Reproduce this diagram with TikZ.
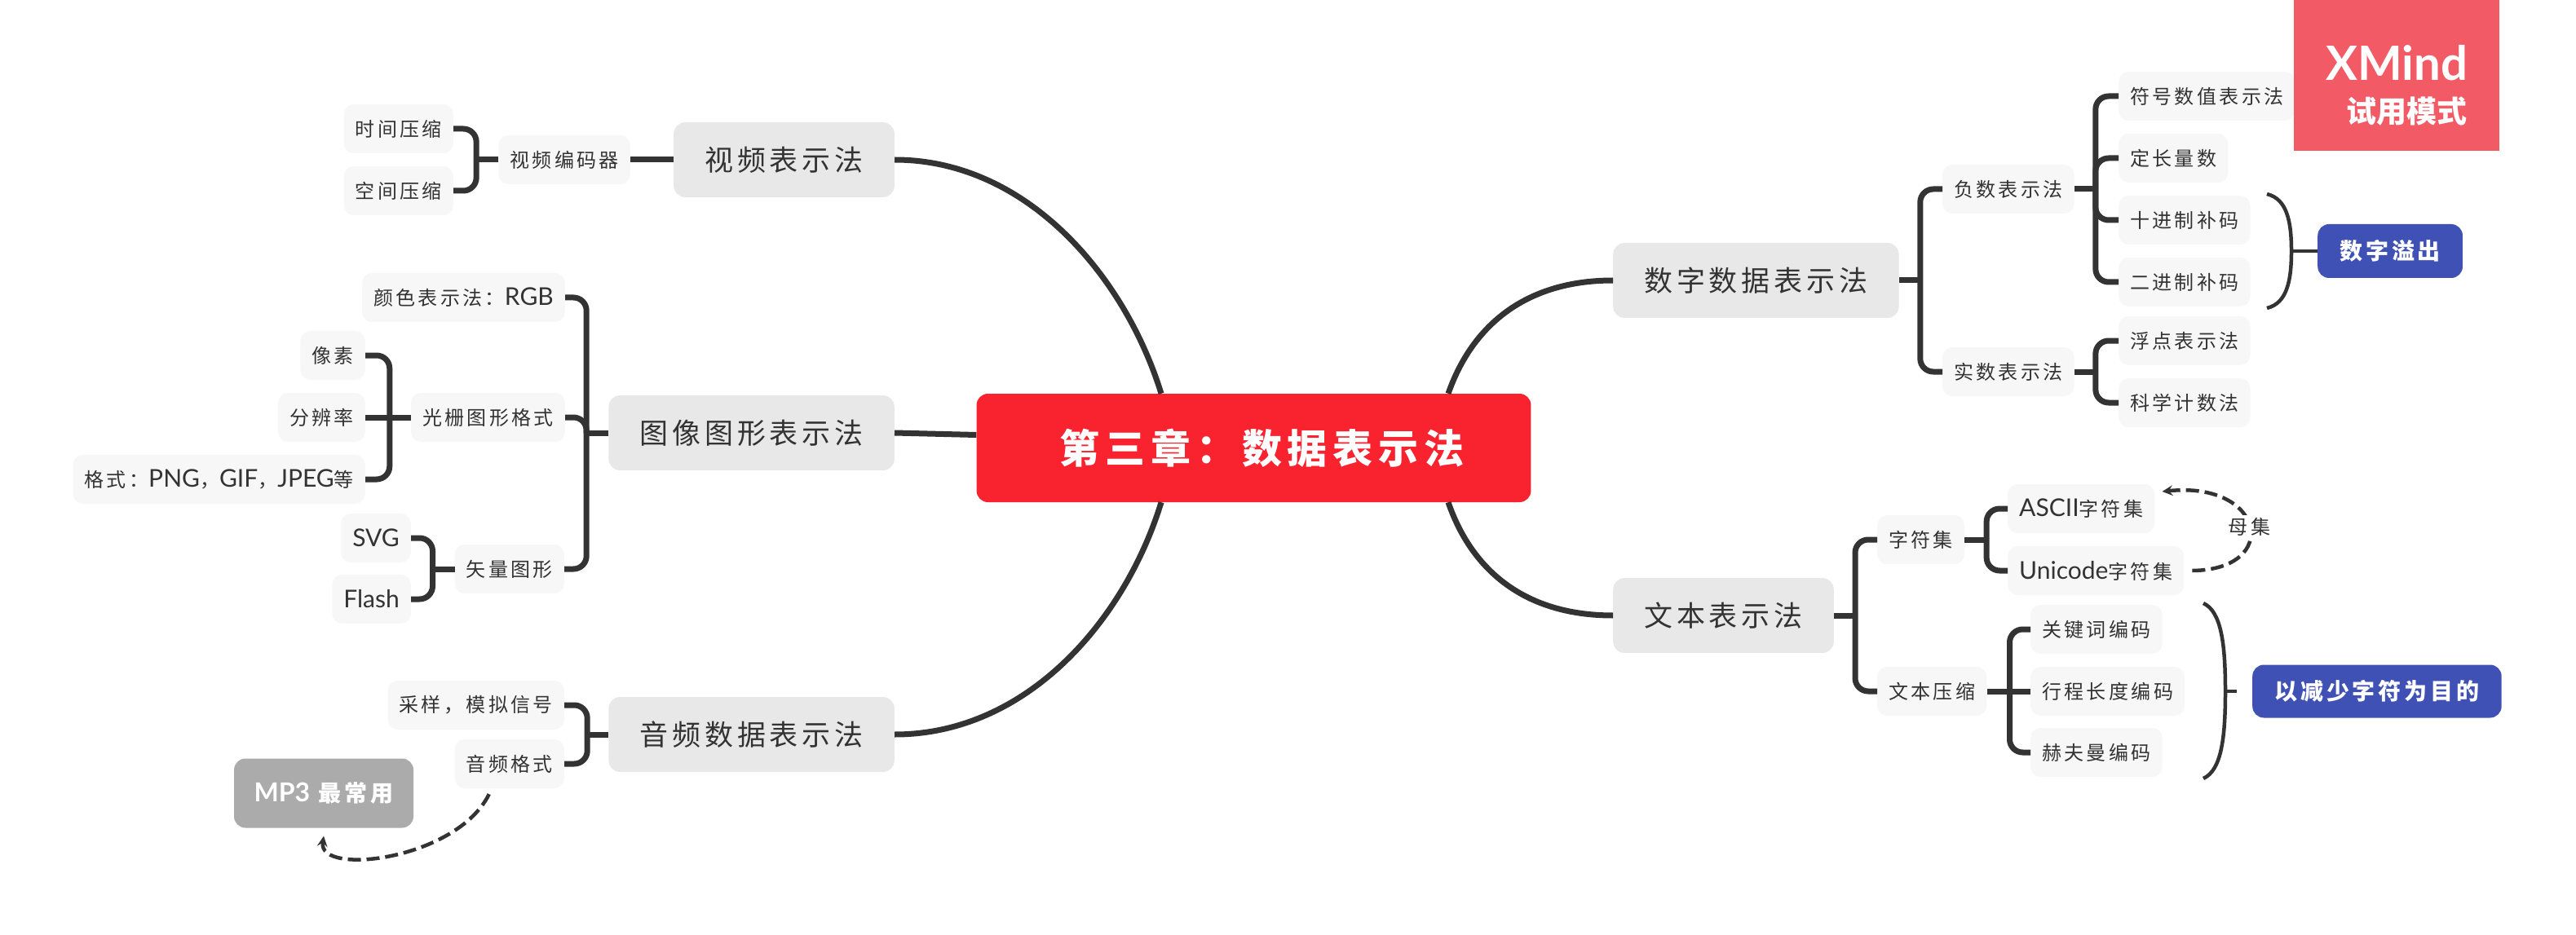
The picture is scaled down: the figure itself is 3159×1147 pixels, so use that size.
\documentclass[tikz,border=0pt]{standalone}
\usepackage{fontspec}
\setmainfont[LetterSpace=14]{Noto Sans CJK SC}
\newfontfamily\latfont{Lato}
\newcommand{\la}[1]{{\latfont\fontsize{30}{32}\selectfont #1}}
\definecolor{inkline}{HTML}{333333}
\definecolor{leaffill}{HTML}{F7F7F7}
\definecolor{topicfill}{HTML}{E8E8E8}
\definecolor{rootfill}{HTML}{F8232F}
\definecolor{notefill}{HTML}{3F51B5}
\definecolor{mpfill}{HTML}{ABABAB}
\definecolor{markfill}{HTML}{F25A65}

\begin{document}
\begin{tikzpicture}[x=1pt, y=-1pt,
leaf/.style = {rectangle, fill=leaffill, text=inkline, rounded corners=12pt, minimum height=60pt, inner xsep=14pt, inner ysep=0pt, font=\fontsize{24}{28}\selectfont},
topic/.style = {rectangle, fill=topicfill, text=inkline, rounded corners=14pt, minimum height=92pt, inner xsep=38pt, inner ysep=0pt, font=\fontsize{35}{40}\selectfont},
rootbox/.style = {rectangle, fill=rootfill, text=white, rounded corners=14pt, minimum height=133pt, inner xsep=82pt, inner ysep=0pt, font=\fontsize{49}{56}\selectfont\bfseries},
note/.style = {rectangle, fill=notefill, text=white, rounded corners=14pt, inner xsep=27pt, inner ysep=0pt, font=\fontsize{28}{32}\selectfont\bfseries},
branch/.style = {draw=inkline, line width=7pt},
elbow/.style = {branch, rounded corners=16pt},
brace/.style = {draw=inkline, line width=4.5pt},
relation/.style = {draw=inkline, line width=4.5pt, dash pattern=on 16pt off 7pt, -stealth}]
\useasboundingbox (0,0) rectangle (3159,1147);

\node [rootbox] at (1537.5,549.5) (chapter) {\hspace*{20pt}第三章：数据表示法};

\node [topic, anchor=east] at (1097,196) (video) {视频表示法};
\node [topic, anchor=east] at (1097,531) (image) {图像图形表示法};
\node [topic, anchor=east] at (1097,901) (audio) {音频数据表示法};
\node [topic, anchor=west] at (1978,344) (digital) {数字数据表示法};
\node [topic, anchor=west] at (1978,755) (textrep) {文本表示法};

\node [leaf, anchor=east] at (773,196) (codec) {视频编码器};
\node [leaf, anchor=east] at (556,158) (timec) {时间压缩};
\node [leaf, anchor=east] at (556,234) (spacec) {空间压缩};

\node [leaf, anchor=east] at (693,365) (rgb) {颜色表示法：\la{RGB}};
\node [leaf, anchor=east] at (693,512) (raster) {光栅图形格式};
\node [leaf, anchor=east] at (692,698) (vector) {矢量图形};
\node [leaf, anchor=east] at (448,436) (pixel) {像素};
\node [leaf, anchor=east] at (448,512) (resol) {分辨率};
\node [leaf, anchor=east] at (448,588) (format) {格式：\la{PNG}，\la{GIF}，\la{JPEG}等};
\node [leaf, anchor=east] at (504,660) (svg) {\la{SVG}};
\node [leaf, anchor=east] at (504,735) (flash) {\la{Flash}};

\node [leaf, anchor=east] at (692,865) (sample) {采样，模拟信号};
\node [leaf, anchor=east] at (692,937) (audiofmt) {音频格式};
\node [rectangle, fill=mpfill, text=white, rounded corners=14pt, minimum width=220pt, minimum height=85pt, inner sep=0pt, font=\fontsize{28}{32}\selectfont\bfseries] at (397,973) (mp3) {{\latfont\bfseries\fontsize{32}{32}\selectfont MP3} 最常用};

\node [leaf, anchor=west] at (2382,232) (negative) {负数表示法};
\node [leaf, anchor=west] at (2382,456) (real) {实数表示法};
\node [leaf, anchor=west] at (2598,118) (signed) {符号数值表示法};
\node [leaf, anchor=west] at (2598,194) (fixedlen) {定长量数};
\node [leaf, anchor=west] at (2598,270) (deccomp) {十进制补码};
\node [leaf, anchor=west] at (2598,346) (bincomp) {二进制补码};
\node [leaf, anchor=west] at (2598,418) (floatp) {浮点表示法};
\node [leaf, anchor=west] at (2598,494) (scinot) {科学计数法};
\node [note, anchor=west, minimum height=66pt] at (2842,308) (overflow) {数字溢出};

\node [leaf, anchor=west] at (2302,662) (charset) {字符集};
\node [leaf, anchor=west] at (2302,848) (compress) {文本压缩};
\node [leaf, anchor=west] at (2462,624) (ascii) {\la{ASCII}字符集};
\node [leaf, anchor=west] at (2462,700) (unicode) {\la{Unicode}字符集};
\node [leaf, anchor=west] at (2490,772) (keyword) {关键词编码};
\node [leaf, anchor=west] at (2490,848) (runlen) {行程长度编码};
\node [leaf, anchor=west] at (2490,923) (huffman) {赫夫曼编码};
\node [note, anchor=west, minimum height=65pt] at (2762,848) (fewer) {以减少字符为目的};

\node [rectangle, fill=markfill, text=white, minimum width=252pt, minimum height=185pt, inner sep=0pt, align=right, font=\fontsize{37}{52}\selectfont\bfseries] at (2939,92.5) (trial) {\rule{0pt}{68pt}{\latfont\bfseries\fontsize{58}{60}\selectfont XMind}\\{\addfontfeature{LetterSpace=0}试用模式}};

\draw [branch] (video.east) .. controls (1260,196) and (1380,340) .. ([xshift=-113.5pt]chapter.north);
\draw [branch] (image.east) -- ([yshift=16pt]chapter.west);
\draw [branch] (audio.east) .. controls (1260,901) and (1380,760) .. ([xshift=-113.5pt]chapter.south);
\draw [branch] (digital.west) .. controls (1870,344) and (1805,400) .. ([xshift=238.5pt]chapter.north);
\draw [branch] (textrep.west) .. controls (1870,755) and (1805,700) .. ([xshift=238.5pt]chapter.south);

\draw [branch] (video.west) -- (codec.east);
\draw [branch] (codec.west) -- ++(-27,0) coordinate (codect);
\draw [elbow] (codect) |- (timec.east);
\draw [elbow] (codect) |- (spacec.east);

\draw [branch] (image.west) -- ++(-27,0) coordinate (imaget);
\draw [elbow] (imaget) |- (rgb.east);
\draw [elbow] (imaget) |- (raster.east);
\draw [elbow] (imaget) |- (vector.east);
\draw [branch] (raster.west) -- ++(-26,0) coordinate (rastert);
\draw [elbow] (rastert) |- (pixel.east);
\draw [branch] (rastert) -- (resol.east);
\draw [elbow] (rastert) |- (format.east);
\draw [branch] (vector.west) -- ++(-27,0) coordinate (vectort);
\draw [elbow] (vectort) |- (svg.east);
\draw [elbow] (vectort) |- (flash.east);

\draw [branch] (audio.west) -- ++(-26,0) coordinate (audiot);
\draw [elbow] (audiot) |- (sample.east);
\draw [elbow] (audiot) |- (audiofmt.east);
\draw [relation] ([shift={(-25,7)}]audiofmt.south) .. controls (560,1055) and (390,1075) .. ([yshift=-10pt]mp3.south);

\draw [branch] (digital.east) -- ++(26,0) coordinate (digitalt);
\draw [elbow] (digitalt) |- (negative.west);
\draw [elbow] (digitalt) |- (real.west);
\draw [branch] (negative.east) -- ++(26,0) coordinate (negativet);
\draw [elbow] (negativet) |- (signed.west);
\draw [elbow] (negativet) |- (fixedlen.west);
\draw [elbow] (negativet) |- (deccomp.west);
\draw [elbow] (negativet) |- (bincomp.west);
\draw [branch] (real.east) -- ++(26,0) coordinate (realt);
\draw [elbow] (realt) |- (floatp.west);
\draw [elbow] (realt) |- (scinot.west);

\draw [branch] (textrep.east) -- ++(26,0) coordinate (textt);
\draw [elbow] (textt) |- (charset.west);
\draw [elbow] (textt) |- (compress.west);
\draw [branch] (charset.east) -- ++(27,0) coordinate (charsett);
\draw [elbow] (charsett) |- (ascii.west);
\draw [elbow] (charsett) |- (unicode.west);
\draw [branch] (compress.east) -- ++(28,0) coordinate (compresst);
\draw [elbow] (compresst) |- (keyword.west);
\draw [branch] (compresst) -- (runlen.west);
\draw [elbow] (compresst) |- (huffman.west);
\draw [relation] ([xshift=10pt]unicode.east) .. controls (2798,699) and (2778,590) .. node [pos=0.5, fill=white, inner sep=3pt, text=inkline, font=\fontsize{24}{28}\selectfont] (mother) {母集} ([shift={(9,-21)}]ascii.east);

\draw [brace] (overflow.west) -- ++(-32,0) coordinate (overflowb);
\draw [brace] (overflowb) .. controls (2810,270) and (2804,244) .. (2780,238);
\draw [brace] (overflowb) .. controls (2810,346) and (2804,372) .. (2780,378);
\draw [brace] ([xshift=-19pt]fewer.west) -- ++(-14,0) coordinate (fewerb);
\draw [brace] (fewerb) .. controls (2729,790) and (2724,750) .. (2702,740);
\draw [brace] (fewerb) .. controls (2729,906) and (2724,945) .. (2702,955);
\end{tikzpicture}
\end{document}
